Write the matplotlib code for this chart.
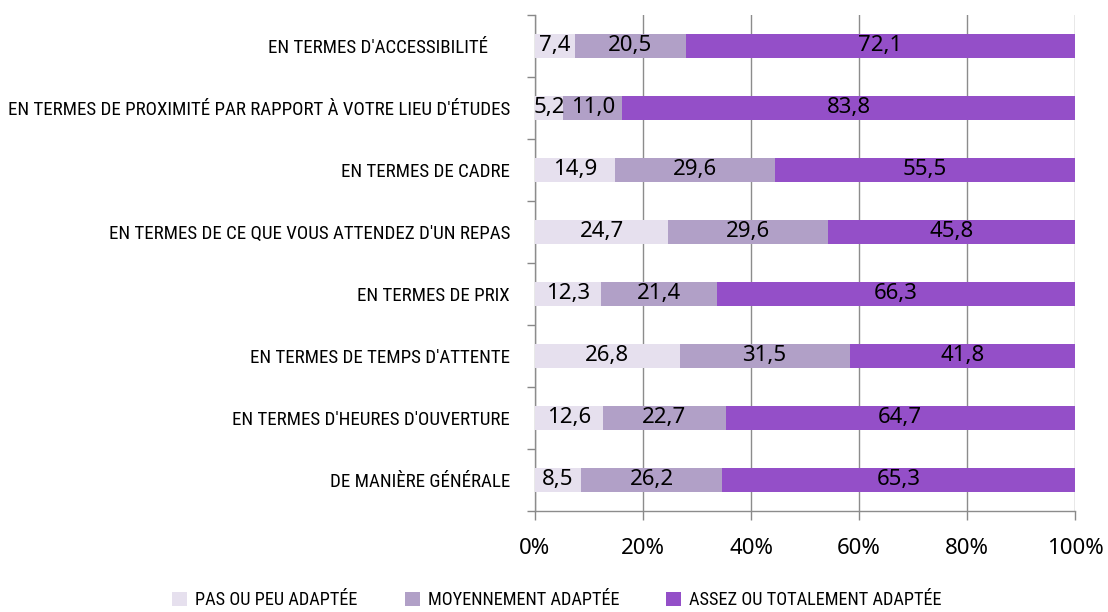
import matplotlib
matplotlib.use("Agg")
import matplotlib.pyplot as plt
import numpy as np
from matplotlib.ticker import FuncFormatter, FixedLocator
from matplotlib.patches import Patch
from matplotlib import font_manager as fm

categories = [
    "EN TERMES D'ACCESSIBILITÉ",
    "EN TERMES DE PROXIMITÉ PAR RAPPORT À VOTRE LIEU D'ÉTUDES",
    "EN TERMES DE CADRE",
    "EN TERMES DE CE QUE VOUS ATTENDEZ D'UN REPAS",
    "EN TERMES DE PRIX",
    "EN TERMES DE TEMPS D'ATTENTE",
    "EN TERMES D'HEURES D'OUVERTURE",
    "DE MANIÈRE GÉNÉRALE",
]
series_names = ["PAS OU PEU ADAPTÉE", "MOYENNEMENT ADAPTÉE", "ASSEZ OU TOTALEMENT ADAPTÉE"]
pas_ou_peu = [7.4, 5.2, 14.9, 24.7, 12.3, 26.8, 12.6, 8.5]
moyennement = [20.5, 11.0, 29.6, 29.6, 21.4, 31.5, 22.7, 26.2]
assez_ou_totalement = [72.1, 83.8, 55.5, 45.8, 66.3, 41.8, 64.7, 65.3]
x_ticks = [0, 20, 40, 60, 80, 100]

colors = ["#E6E0EE", "#B1A0C7", "#944FC8"]
numfont = ["Noto Sans", "DejaVu Sans"]


def find_condensed():
    prefs = ["robotocondensed-regular", "opensans_condensed-regular", "opensans-condensedregular",
             "liberationsansnarrow-regular", "dejavusanscondensed.ttf", "notosans-condensed.ttf",
             "notosanscondensed-regular"]
    files = [f.fname for f in fm.fontManager.ttflist]
    for p in prefs:
        for f in files:
            if p in f.lower().replace(" ", ""):
                return fm.FontProperties(fname=f)
    for f in fm.fontManager.ttflist:
        low = f.fname.lower()
        if ("condensed" in low or "narrow" in low) and "bold" not in low and "italic" not in low \
                and "oblique" not in low and "light" not in low and "semi" not in low:
            return fm.FontProperties(fname=f.fname)
    return fm.FontProperties(family="DejaVu Sans", stretch="condensed")


cond_base = find_condensed()

fig = plt.figure(figsize=(11.08, 6.12), dpi=100)
renderer = fig.canvas.get_renderer()


def fit_size(text, target_px, base=20):
    fp = cond_base.copy()
    fp.set_size(base)
    t = fig.text(0, 0, text, fontproperties=fp)
    w = t.get_window_extent(renderer).width
    t.remove()
    return base * target_px / w


cat_size = fit_size(categories[1], 500)
leg_size = fit_size(series_names[0], 162)
cat_fp = cond_base.copy(); cat_fp.set_size(cat_size)
leg_fp = cond_base.copy(); leg_fp.set_size(leg_size)

ax = fig.add_axes([535/1108, 101/612, 540/1108, 496/612])

data = np.array([pas_ou_peu, moyennement, assez_ou_totalement])
totals = data.sum(axis=0)
pct = data / totals * 100
n = len(categories)
y = np.arange(n)[::-1]

left = np.zeros(n)
for i in range(3):
    ax.barh(y, pct[i], left=left, height=0.4, color=colors[i], zorder=3)
    for j in range(n):
        ax.text(left[j] + pct[i][j] / 2, y[j], f"{data[i][j]:.1f}".replace(".", ","),
                ha="center", va="center", fontsize=16, family=numfont, color="black", zorder=4)
    left = left + pct[i]

ax.set_xlim(0, 100)
ax.set_ylim(-0.5, n - 0.5)
ax.xaxis.set_major_locator(FixedLocator(x_ticks))
ax.xaxis.set_major_formatter(FuncFormatter(lambda v, p: f"{v:.0f}%"))
ax.set_yticks(y)
ax.set_yticklabels(categories)
for k, lab in enumerate(ax.get_yticklabels()):
    lab.set_fontproperties(cat_fp)
ax.yaxis.set_minor_locator(FixedLocator(np.arange(-0.5, n, 1.0)))
ax.tick_params(axis="y", which="major", length=0, pad=18)
ax.tick_params(axis="y", which="minor", length=6, color="#888888", width=1)
ax.tick_params(axis="x", length=6.5, color="#888888", width=1, pad=13, labelsize=16)
for lab in ax.get_xticklabels():
    lab.set_family(numfont)
# the first label sits slightly further from the axis in the reference
ax.get_yticklabels()[0].set_x(-22 / 540)

ax.grid(axis="x", color="#8c8c8c", linewidth=1, zorder=0)
for s in ["top", "right"]:
    ax.spines[s].set_visible(False)
for s in ["left", "bottom"]:
    ax.spines[s].set_color("#8c8c8c")
    ax.spines[s].set_linewidth(1)

leg_px = leg_size * 100 / 72
handles = [Patch(facecolor=c, edgecolor="none") for c in colors]
fig.legend(handles, series_names, loc="center", bbox_to_anchor=(557/1108, 12/612), ncol=3,
           frameon=False, prop=leg_fp, handlelength=15/leg_px, handleheight=15/leg_px,
           handletextpad=8/leg_px, columnspacing=47/leg_px, borderpad=0, borderaxespad=0)

fig.savefig("out.png", dpi=100)
